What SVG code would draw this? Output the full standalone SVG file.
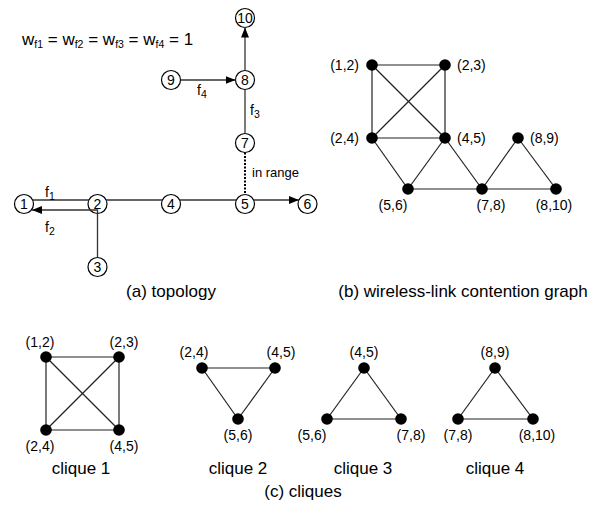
<svg xmlns="http://www.w3.org/2000/svg" width="597" height="505" viewBox="0 0 597 505">
<defs>
<style>
text{font-family:"Liberation Sans",Arial,Helvetica,sans-serif;fill:#000}
.nd circle{fill:#fff;stroke:#000;stroke-width:1.2}
.nd text{font-size:14px;text-anchor:middle}
.dot{fill:#000}
.lbl{font-size:14px}
.mid{text-anchor:middle}
.end{text-anchor:end}
.cap{font-size:17px;text-anchor:middle}
.ln{stroke:#333;stroke-width:1.3;fill:none}
.ed{stroke:#222;stroke-width:1.2;fill:none}
.fl{font-size:14px}
.sub{font-size:10.5px}
</style>
<marker id="ah" markerUnits="userSpaceOnUse" markerWidth="10" markerHeight="8" refX="10" refY="4" orient="auto">
<path d="M0,0 L10,4 L0,8 z" fill="#000"/>
</marker>
</defs>
<rect width="597" height="505" fill="#fff"/>

<!-- equation -->
<text x="22" y="45" font-size="17">w<tspan class="sub" dy="3">f1</tspan><tspan dy="-3"> = w</tspan><tspan class="sub" dy="3">f2</tspan><tspan dy="-3"> = w</tspan><tspan class="sub" dy="3">f3</tspan><tspan dy="-3"> = w</tspan><tspan class="sub" dy="3">f4</tspan><tspan dy="-3"> = 1</tspan></text>

<!-- topology nodes -->
<g id="n1" class="nd"><circle cx="24" cy="204" r="9.5"/><text x="24" y="209">1</text></g>
<g id="n2" class="nd"><circle cx="97.5" cy="204" r="9.5"/><text x="97.5" y="209">2</text></g>
<g id="n3" class="nd"><circle cx="97.5" cy="267" r="9.5"/><text x="97.5" y="272">3</text></g>
<g id="n4" class="nd"><circle cx="171" cy="204" r="9.5"/><text x="171" y="209">4</text></g>
<g id="n5" class="nd"><circle cx="245" cy="204" r="9.5"/><text x="245" y="209">5</text></g>
<g id="n6" class="nd"><circle cx="307.5" cy="204" r="9.5"/><text x="307.5" y="209">6</text></g>
<g id="n7" class="nd"><circle cx="245" cy="143" r="9.5"/><text x="245" y="148">7</text></g>
<g id="n8" class="nd"><circle cx="245" cy="80" r="9.5"/><text x="245" y="85">8</text></g>
<g id="n9" class="nd"><circle cx="171" cy="80" r="9.5"/><text x="171" y="85">9</text></g>
<g id="n10" class="nd"><circle cx="245" cy="18" r="9.5"/><text x="245" y="23">10</text></g>

<!-- topology connectors -->
<g id="topo-connectors">
<line class="ln" x1="32.6" y1="200" x2="89" y2="200"/>
<line class="ln" x1="106" y1="200" x2="162.4" y2="200"/>
<line class="ln" x1="179.6" y1="200" x2="236.4" y2="200"/>
<line class="ln" x1="253.6" y1="200" x2="299" y2="200" marker-end="url(#ah)"/>
<polyline class="ln" points="97.5,257.5 97.5,210 32,210" marker-end="url(#ah)"/>
<line class="ln" x1="180.5" y1="80" x2="235.5" y2="80" marker-end="url(#ah)"/>
<line class="ln" x1="245" y1="70.5" x2="245" y2="27.5" marker-end="url(#ah)"/>
<line class="ln" x1="245" y1="89.5" x2="245" y2="133.5"/>
<line x1="245" y1="152.5" x2="245" y2="194.5" stroke="#000" stroke-width="2" stroke-dasharray="2 1.5"/>
</g>
<text class="fl" x="45" y="197">f<tspan class="sub" dy="3">1</tspan></text>
<text class="fl" x="45" y="232">f<tspan class="sub" dy="3">2</tspan></text>
<text class="fl" x="197" y="95">f<tspan class="sub" dy="3">4</tspan></text>
<text class="fl" x="250" y="115">f<tspan class="sub" dy="3">3</tspan></text>
<text x="252" y="177" font-size="13">in range</text>
<text class="cap" x="171" y="297">(a) topology</text>

<!-- contention graph -->
<g id="graph-connectors">
<line class="ed" x1="372" y1="65" x2="445" y2="65"/>
<line class="ed" x1="372" y1="65" x2="372" y2="138"/>
<line class="ed" x1="372" y1="65" x2="445" y2="138"/>
<line class="ed" x1="445" y1="65" x2="372" y2="138"/>
<line class="ed" x1="445" y1="65" x2="445" y2="138"/>
<line class="ed" x1="372" y1="138" x2="445" y2="138"/>
<line class="ed" x1="372" y1="138" x2="408" y2="189"/>
<line class="ed" x1="445" y1="138" x2="408" y2="189"/>
<line class="ed" x1="445" y1="138" x2="482" y2="189"/>
<line class="ed" x1="408" y1="189" x2="482" y2="189"/>
<line class="ed" x1="482" y1="189" x2="518" y2="138"/>
<line class="ed" x1="482" y1="189" x2="556" y2="189"/>
<line class="ed" x1="518" y1="138" x2="556" y2="189"/>
</g>
<g id="g12"><circle class="dot" cx="372" cy="65" r="5.8"/><text class="lbl end" x="359" y="70">(1,2)</text></g>
<g id="g23"><circle class="dot" cx="445" cy="65" r="5.8"/><text class="lbl" x="457" y="70">(2,3)</text></g>
<g id="g24"><circle class="dot" cx="372" cy="138" r="5.8"/><text class="lbl end" x="359" y="143">(2,4)</text></g>
<g id="g45"><circle class="dot" cx="445" cy="138" r="5.8"/><text class="lbl" x="457" y="143">(4,5)</text></g>
<g id="g89"><circle class="dot" cx="518" cy="138" r="5.8"/><text class="lbl" x="530" y="143">(8,9)</text></g>
<g id="g56"><circle class="dot" cx="408" cy="189" r="5.8"/><text class="lbl mid" x="393" y="210">(5,6)</text></g>
<g id="g78"><circle class="dot" cx="482" cy="189" r="5.8"/><text class="lbl mid" x="491" y="210">(7,8)</text></g>
<g id="g810"><circle class="dot" cx="556" cy="189" r="5.8"/><text class="lbl mid" x="554" y="210">(8,10)</text></g>
<text class="cap" x="463" y="297">(b) wireless-link contention graph</text>

<!-- cliques -->
<g id="clique-connectors">
<line class="ed" x1="46" y1="357" x2="119" y2="357"/>
<line class="ed" x1="46" y1="357" x2="46" y2="430"/>
<line class="ed" x1="46" y1="357" x2="119" y2="430"/>
<line class="ed" x1="119" y1="357" x2="46" y2="430"/>
<line class="ed" x1="119" y1="357" x2="119" y2="430"/>
<line class="ed" x1="46" y1="430" x2="119" y2="430"/>
<line class="ed" x1="202" y1="368" x2="275" y2="368"/>
<line class="ed" x1="202" y1="368" x2="238" y2="419"/>
<line class="ed" x1="275" y1="368" x2="238" y2="419"/>
<line class="ed" x1="364" y1="368" x2="327" y2="419"/>
<line class="ed" x1="364" y1="368" x2="401" y2="419"/>
<line class="ed" x1="327" y1="419" x2="401" y2="419"/>
<line class="ed" x1="495" y1="368" x2="458" y2="419"/>
<line class="ed" x1="495" y1="368" x2="533" y2="419"/>
<line class="ed" x1="458" y1="419" x2="533" y2="419"/>
</g>
<g id="c1-12"><circle class="dot" cx="46" cy="357" r="5.8"/><text class="lbl mid" x="40" y="347">(1,2)</text></g>
<g id="c1-23"><circle class="dot" cx="119" cy="357" r="5.8"/><text class="lbl mid" x="124" y="347">(2,3)</text></g>
<g id="c1-24"><circle class="dot" cx="46" cy="430" r="5.8"/><text class="lbl mid" x="40" y="451">(2,4)</text></g>
<g id="c1-45"><circle class="dot" cx="119" cy="430" r="5.8"/><text class="lbl mid" x="124" y="451">(4,5)</text></g>
<g id="c2-24"><circle class="dot" cx="202" cy="368" r="5.8"/><text class="lbl mid" x="194" y="357">(2,4)</text></g>
<g id="c2-45"><circle class="dot" cx="275" cy="368" r="5.8"/><text class="lbl mid" x="281" y="357">(4,5)</text></g>
<g id="c2-56"><circle class="dot" cx="238" cy="419" r="5.8"/><text class="lbl mid" x="238" y="440">(5,6)</text></g>
<g id="c3-45"><circle class="dot" cx="364" cy="368" r="5.8"/><text class="lbl mid" x="364" y="357">(4,5)</text></g>
<g id="c3-56"><circle class="dot" cx="327" cy="419" r="5.8"/><text class="lbl mid" x="312" y="440">(5,6)</text></g>
<g id="c3-78"><circle class="dot" cx="401" cy="419" r="5.8"/><text class="lbl mid" x="411" y="440">(7,8)</text></g>
<g id="c4-89"><circle class="dot" cx="495" cy="368" r="5.8"/><text class="lbl mid" x="495" y="357">(8,9)</text></g>
<g id="c4-78"><circle class="dot" cx="458" cy="419" r="5.8"/><text class="lbl mid" x="458" y="440">(7,8)</text></g>
<g id="c4-810"><circle class="dot" cx="533" cy="419" r="5.8"/><text class="lbl mid" x="537" y="440">(8,10)</text></g>
<text class="cap" x="81" y="474">clique 1</text>
<text class="cap" x="238" y="474">clique 2</text>
<text class="cap" x="363" y="474">clique 3</text>
<text class="cap" x="495" y="474">clique 4</text>
<text class="cap" x="303" y="497">(c) cliques</text>
</svg>
